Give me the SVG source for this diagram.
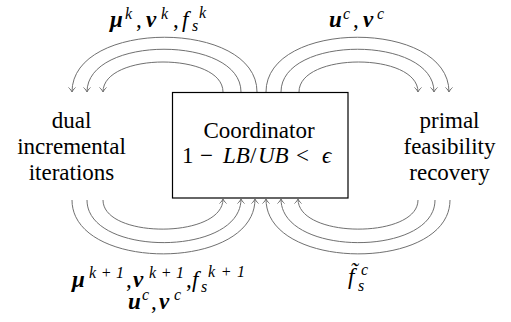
<svg xmlns="http://www.w3.org/2000/svg" width="511" height="322" viewBox="0 0 511 322">
<style>
text{font-family:'Liberation Serif','DejaVu Serif',serif;fill:#000}
.t{font-size:23px;text-anchor:middle}
.m{font-size:23px}
.b{font-weight:bold;font-style:italic}
.i{font-style:italic}
.s{font-size:16px;font-style:italic}
.arc{fill:none;stroke:#707070;stroke-width:1;marker-end:url(#ah)}
.box{fill:#fff;stroke:#000;stroke-width:1.2}
</style>
<defs>
<marker id="ah" markerUnits="userSpaceOnUse" markerWidth="7" markerHeight="10" viewBox="-6 -5 7 10" refX="0" refY="0" orient="auto" overflow="visible">
<path d="M-4.5,-3.5 C-2.8,-1.6 -1,-0.4 0,0 C-1,0.4 -2.8,1.6 -4.5,3.5" fill="none" stroke="#707070" stroke-width="1"/>
</marker>
</defs>
<g id="connectors">
<path class="arc" d="M257,92 C257,19 72,19 72,92"/>
<path class="arc" d="M241,92 C241,35 87,35 87,92"/>
<path class="arc" d="M223,92 C223,52 103,52 103,92"/>
<path class="arc" d="M266,92 C266,19 449,19 449,92"/>
<path class="arc" d="M281,92 C281,35 434,35 434,92"/>
<path class="arc" d="M299,92 C299,52 418,52 418,92"/>
<path class="arc" d="M72,200 C72,272 255,272 255,199"/>
<path class="arc" d="M87,200 C87,257 241,257 241,199"/>
<path class="arc" d="M103,200 C103,239 223,239 223,199"/>
<path class="arc" d="M450,200 C450,272 266,272 266,199"/>
<path class="arc" d="M435,200 C435,257 281,257 281,199"/>
<path class="arc" d="M418,200 C418,239 298,239 298,199"/>
</g>
<g id="coordinator">
<rect class="box" x="172.5" y="92.5" width="175.5" height="105.5"/>
<text class="t" x="259" y="138">Coordinator</text>
<text class="m" y="163"><tspan x="182">1</tspan><tspan x="200">−</tspan><tspan class="i" x="223">LB</tspan><tspan x="250">/</tspan><tspan class="i" x="258">UB</tspan><tspan x="296">&lt;</tspan><tspan class="i" x="322">ϵ</tspan></text>
</g>
<g id="dual">
<text class="t" x="71.5" y="128">dual</text>
<text class="t" x="71.5" y="154">incremental</text>
<text class="t" x="71.5" y="180">iterations</text>
</g>
<g id="primal">
<text class="t" x="449.5" y="128">primal</text>
<text class="t" x="449.5" y="154">feasibility</text>
<text class="t" x="449.5" y="180">recovery</text>
</g>
<g id="label-top-left">
<text class="m" y="27"><tspan class="b" x="110">μ</tspan><tspan class="s" x="125" y="19">k</tspan><tspan x="136" y="27">,</tspan><tspan class="b" x="146">ν</tspan><tspan class="s" x="161" y="19">k</tspan><tspan x="173" y="27">,</tspan><tspan class="i" x="182">f</tspan><tspan class="s" x="192" y="31">s</tspan><tspan class="s" x="199" y="18">k</tspan></text>
</g>
<g id="label-top-right">
<text class="m" y="27"><tspan class="b" x="329">u</tspan><tspan class="s" x="343" y="19">c</tspan><tspan x="353" y="27">,</tspan><tspan class="b" x="363">v</tspan><tspan class="s" x="377" y="19">c</tspan></text>
</g>
<g id="label-bottom-left">
<text class="m" y="287"><tspan class="b" x="72">μ</tspan><tspan class="s" x="89" y="278" textLength="35">k+1</tspan><tspan x="126" y="287">,</tspan><tspan class="b" x="133">ν</tspan><tspan class="s" x="149" y="278" textLength="35">k+1</tspan><tspan x="186" y="287">,</tspan><tspan class="i" x="192">f</tspan><tspan class="s" x="201" y="292">s</tspan><tspan class="s" x="208" y="277" textLength="37">k+1</tspan></text>
<text class="m" y="309"><tspan class="b" x="128">u</tspan><tspan class="s" x="142" y="300">c</tspan><tspan x="151" y="309">,</tspan><tspan class="b" x="159">v</tspan><tspan class="s" x="174" y="300">c</tspan></text>
</g>
<g id="label-bottom-right">
<text class="m" y="284"><tspan class="i" x="348">f̃</tspan><tspan class="s" x="361" y="275">c</tspan><tspan class="s" x="358" y="291">s</tspan></text>
</g>
</svg>
